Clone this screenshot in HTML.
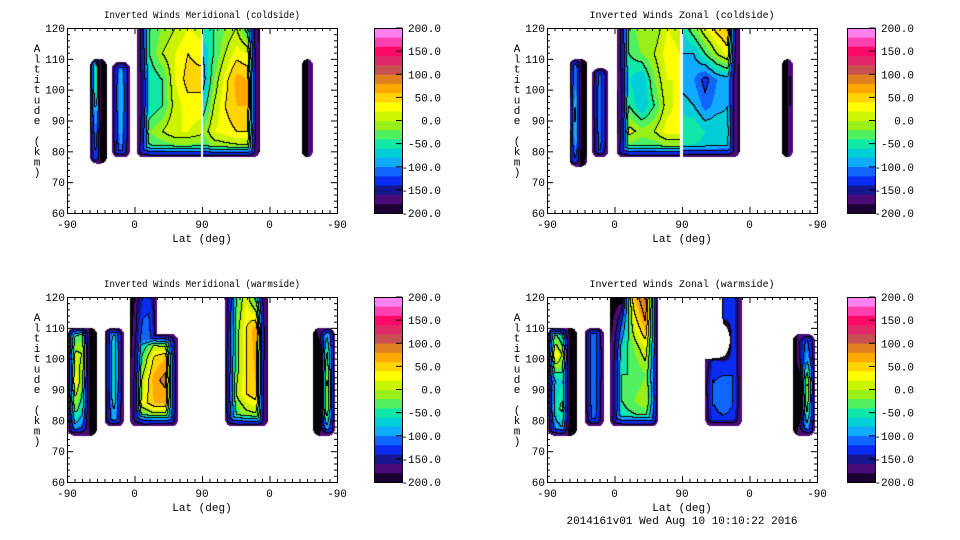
<!DOCTYPE html>
<html><head><meta charset="utf-8">
<style>
body{margin:0;background:#fff;width:960px;height:540px;overflow:hidden;position:relative;font-family:"Liberation Mono",monospace;}
canvas{position:absolute;}
svg{position:absolute;left:0;top:0;}
</style></head>
<body>
<canvas id="c0" width="270" height="185" style="left:67px;top:28px"></canvas>
<canvas id="c1" width="270" height="185" style="left:547px;top:28px"></canvas>
<canvas id="c2" width="270" height="185" style="left:67px;top:297px"></canvas>
<canvas id="c3" width="270" height="185" style="left:547px;top:297px"></canvas>
<svg id="ov" width="960" height="540"></svg>
<script>
const levelColors = ["#1a0033","#4a0a78","#16168e","#0a2cf0","#1064ff","#10aaff","#00cfd8","#10e8a8","#50f060","#98f018","#ccf400","#ffff00","#ffd400","#ffa800","#e08020","#c85050","#e02868","#ff0868","#ff40b0","#ff80f0"];
const cbarTicks = [200,150,100,50,0,-50,-100,-150,-200];
const xTickLabels = ["-90","0","90","0","-90"];
const yTicks = [60,70,80,90,100,110,120];
const panelTitles = ["Inverted Winds Meridional (coldside)","Inverted Winds Zonal (coldside)","Inverted Winds Meridional (warmside)","Inverted Winds Zonal (warmside)"];
const extTL = [[31,53,76,110,"lrbt"],[60,84,78,109,"lrbt"],[93,179,78,120,"lb"],[181,257,78,120,"rb"],[313,328,78,110,"lrbt"]];
const gridTL = [
 [[80,0,-200,-200],[60,20,-200,-200],[0,-40,-200,-200],[-60,-80,-200,-200],[-80,-100,-200,-180]],
 [[-120,-100,-120],[-110,-80,-110],[-110,-80,-110],[-120,-90,-120],[-130,-110,-130]],
 [[-150,-40,-20,0,20,10],[-160,-40,0,20,40,30],[-180,-60,-40,20,50,50],[-180,-60,-40,10,30,30],[-180,-20,0,20,20,10],[-100,-60,-60,-60,-60,-60]],
 [[-40,-40,-20,0,-60,-200],[-80,-40,0,30,20,-200],[-100,-20,30,70,60,-200],[-60,0,40,60,60,-200],[-20,20,30,40,40,-200],[-60,-40,-40,-40,-40,-200]],
 [[-200,-200,-100],[-200,-200,-80],[-200,-200,-80],[-200,-200,-100]]
];
const extTR = [[30,54,75,110,"lrbt"],[60,82,78,107,"lrbt"],[93,177,78,120,"lb"],[181,257,78,120,"rb"],[313,328,78,110,"lrbt"]];
const gridTR = [
 [[-100,-80,-200,-200],[-20,-80,-200,-200],[0,-40,-200,-200],[-20,-60,-200,-200],[-80,-120,-200,-160]],
 [[-130,-110,-130],[-120,-100,-120],[-120,-100,-120],[-130,-100,-130],[-140,-120,-140]],
 [[-150,-40,0,-20,20,10],[-170,-40,-20,0,30,20],[-180,-60,-80,-20,20,20],[-200,-40,-80,-40,10,30],[-200,10,-10,0,30,30],[-100,-60,-60,-60,-60,-60]],
 [[-60,-20,20,50,70,-200],[-80,-80,-40,0,30,-200],[-90,-100,-130,-100,-90,-200],[-70,-80,-110,-90,-80,-200],[-40,-40,-60,-60,-70,-200],[-80,-80,-80,-80,-80,-200]],
 [[-200,-200,-60],[-200,-200,-40],[-200,-200,-60],[-200,-200,-80]]
];
const extBL = [[1,40,75,110,"lrbt"],[50,76,78,110,"lrbt"],[84,120,78,120,"lrb"],[84,148,78,108,"lrbt"],[211,268,78,120,"lrb"],[328,357,75,110,"lrbt"]];
const gridBL = [
 [[-80,-60,-40,-200,-200],[-10,10,0,-200,-200],[20,40,-20,-200,-200],[-40,-20,-60,-200,-200],[-140,-120,-140,-180,-180]],
 [[-130,-80,-130],[-120,-60,-120],[-120,-60,-120],[-130,-70,-130],[-140,-100,-140]],
 [[-200,-140,-120],[-200,-100,-100],[-200,-100,-100],[-200,-100,-100]],
 [[-200,-100,-40,-80,-160],[-200,-40,40,60,-120],[-200,0,70,90,-100],[-200,20,60,60,-100],[-150,-100,-80,-80,-120]],
 [[-120,-40,20,-60,-200],[-100,-20,40,80,-200],[-80,-20,40,70,-200],[-60,0,40,60,-200],[-100,-60,-40,-40,-200]],
 [[-200,-160,-100,-60],[-200,-200,-20,0],[-200,-200,20,30],[-200,-200,10,20],[-200,-180,-120,-120]]
];
const extBR = [[1,40,75,110,"lrbt"],[50,76,78,110,"lrbt"],[84,148,78,120,"lrb"],[211,260,78,120,"lrb"],[328,357,75,108,"lrbt"]];
const gridBR = [
 [[-60,-60,-100,-200,-200],[40,50,0,-200,-200],[-80,-80,-60,-200,-200],[-90,-60,-30,-200,-200],[-140,-120,-100,-200,-180]],
 [[-130,-100,-130],[-120,-100,-120],[-120,-100,-120],[-130,-100,-130],[-140,-120,-140]],
 [[-200,-200,60,110,60],[-200,-120,20,80,50],[-180,-60,-20,20,40],[-160,-40,-40,-20,20],[-160,-40,-20,0,40],[-120,-60,-60,-60,-60]],
 [[-600,-600,-140,-120,-160],[-600,-600,-140,-120,-160],[-600,-600,-400,-120,-160],[-150,-130,-140,-120,-150],[-100,-120,-110,-120,-140],[-110,-120,-100,-120,-140],[-140,-140,-140,-140,-160]],
 [[-200,-160,-120,-120],[-200,-160,-80,-40],[-200,-200,20,60],[-200,-200,-20,20],[-200,-160,-120,-120]]
];

const W=270,H=185;
function xScale(u){return u/360*W;}
function yScale(a){return (120-a)/60*H;}
function hex(c){return [parseInt(c.substr(1,2),16),parseInt(c.substr(3,2),16),parseInt(c.substr(5,2),16)];}
const rgb = levelColors.map(hex);
rgb[0]=[4,0,8];
function interp(g,gx,gy){
  const rows=g.length,cols=g[0].length;
  gx=Math.max(0,Math.min(cols-1,gx));gy=Math.max(0,Math.min(rows-1,gy));
  const x0=Math.min(cols-2,Math.floor(gx)),y0=Math.min(rows-2,Math.floor(gy));
  const fx=gx-x0,fy=gy-y0;
  return g[y0][x0]*(1-fx)*(1-fy)+g[y0][x0+1]*fx*(1-fy)+g[y0+1][x0]*(1-fx)*fy+g[y0+1][x0+1]*fx*fy;
}
function render(id,exts,grids){
  const cv=document.getElementById(id),ctx=cv.getContext('2d');
  const bins=new Int16Array(W*H).fill(-1);
  for(let py=0;py<H;py++)for(let px=0;px<W;px++){
    let best=-1e9;
    for(let b=0;b<exts.length;b++){
      const [u0,u1,a0,a1,fl]=exts[b];
      const xl=xScale(u0),xr=xScale(u1),yt=yScale(a1),yb=yScale(a0);
      const x=px+0.5,y=py+0.5;
      if(x<xl||x>xr||y<yt||y>yb)continue;
      const g=grids[b];
      let v=interp(g,(x-xl)/(xr-xl)*(g[0].length-1),(y-yt)/(yb-yt)*(g.length-1));
      const dl=fl.includes('l')?x-xl:1e3,dr=fl.includes('r')?xr-x:1e3,dt=fl.includes('t')?y-yt:1e3,db=fl.includes('b')?yb-y:1e3;
      const dx=Math.min(dl,dr),dy=Math.min(dt,db);
      const R=(xr-xl)<40?8:12;
      let d=Math.min(dx,dy);
      const RC=7;
      if(dx<RC&&dy<RC)d=RC-Math.hypot(RC-dx,RC-dy);
      if(d<=0)continue;
      const f=Math.min(1,d/R);
      if(v>-180)v=-180+(v+180)*f;
      if(v>best)best=v;
    }
    if(best>=-205){bins[py*W+px]=Math.max(0,Math.min(19,Math.floor((best+200)/20)));}
  }
  const img=ctx.createImageData(W,H);
  for(let i=0;i<W*H;i++){
    const k=bins[i];const o=i*4;
    if(k<0){img.data[o]=255;img.data[o+1]=255;img.data[o+2]=255;img.data[o+3]=255;continue;}
    const px=i%W,py=(i/W)|0;
    const kk=k>>1;
    let line=false;
    if(px<W-1&&bins[i+1]>=0&&(bins[i+1]>>1)!==kk)line=true;
    if(py<H-1&&bins[i+W]>=0&&(bins[i+W]>>1)!==kk)line=true;
    const c=line?[0,0,0]:rgb[k];
    img.data[o]=c[0];img.data[o+1]=c[1];img.data[o+2]=c[2];img.data[o+3]=255;
  }
  ctx.putImageData(img,0,0);
}
render('c0',extTL,gridTL);render('c1',extTR,gridTR);render('c2',extBL,gridBL);render('c3',extBR,gridBR);

const NS="http://www.w3.org/2000/svg";
const ov=document.getElementById('ov');
function el(tag,attrs,parent,text){const e=document.createElementNS(NS,tag);for(const k in attrs)e.setAttribute(k,attrs[k]);if(text!==undefined)e.textContent=text;(parent||ov).appendChild(e);return e;}
const FF='Liberation Mono, monospace';
const panels=[[67,28,374,"tl"],[547,28,847,"tr"],[67,297,374,"bl"],[547,297,847,"br"]];
panels.forEach((p,pi)=>{
  const [x0,y0,cx,nm]=p;
  const g=el('g',{});
  
  
  const t=el('text',{x:x0+135,y:y0-10,'text-anchor':'middle','font-size':'10','font-family':FF,textLength:196,lengthAdjust:'spacingAndGlyphs'},g,panelTitles[pi]);
  if(pi%2===1)t.setAttribute('textLength','185');
  
  
  const fr=el('rect',{x:x0+0.5,y:y0+0.5,width:W,height:H,fill:'none',stroke:'#000','stroke-width':1},g);
  
  
  for(let u=0;u<=360;u+=10){
    const x=x0+xScale(u)+0.5,maj=(u%90===0);
    const L=maj?6:3;
    el('line',{x1:x,x2:x,y1:y0+H,y2:y0+H-L,stroke:'#000'},g);
    el('line',{x1:x,x2:x,y1:y0,y2:y0+L,stroke:'#000'},g);
  }
  xTickLabels.forEach((s,i)=>{
    const tl=el('text',{x:x0+xScale(i*90),y:y0+H+15,'text-anchor':'middle','font-size':'11','font-family':FF},g,s);
    
    
  });
  for(let a=60;a<=120;a+=2){
    const y=y0+yScale(a)+0.5,maj=(a%10===0),L=maj?6:3;
    el('line',{x1:x0,x2:x0+L,y1:y,y2:y,stroke:'#000'},g);
    el('line',{x1:x0+W,x2:x0+W-L,y1:y,y2:y,stroke:'#000'},g);
  }
  yTicks.forEach(a=>{
    const tl=el('text',{x:x0-2,y:y0+yScale(a)+4,'text-anchor':'end','font-size':'11','font-family':FF},g,String(a));
    
    
  });
  const xl=el('text',{x:x0+135,y:y0+H+29,'text-anchor':'middle','font-size':'11','font-family':FF},g,'Lat (deg)');
  
  
  const yl=el('text',{x:x0-30,y:y0+24,'text-anchor':'middle','font-size':'11','font-family':FF},g);
  
  
  'Altitude (km)'.split('').forEach((ch,i)=>{el('tspan',{x:x0-30,y:y0+24+i*10.3},yl,ch===' '?'\u00a0':ch);});
  const cb=el('g',{},g);
  
  
  const bh=H/20;
  levelColors.forEach((c,i)=>{el('rect',{x:cx,y:y0+H-(i+1)*bh,width:28,height:bh+0.4,fill:c},cb);});
  el('rect',{x:cx+0.5,y:y0+0.5,width:28,height:H,fill:'none',stroke:'#000'},cb);
  cbarTicks.forEach(v=>{
    const y=y0+(200-v)/400*H;
    el('line',{x1:cx+28,x2:cx+22,y1:y,y2:y,stroke:'#000'},cb);
    const tl=el('text',{x:cx+67,y:y+4,'text-anchor':'end','font-size':'11','font-family':FF},cb,v.toFixed(1));
    
    
  });
});
const ft=el('text',{x:682,y:524,'text-anchor':'middle','font-size':'11','font-family':FF},ov,'2014161v01 Wed Aug 10 10:10:22 2016');


</script>
</body></html>
